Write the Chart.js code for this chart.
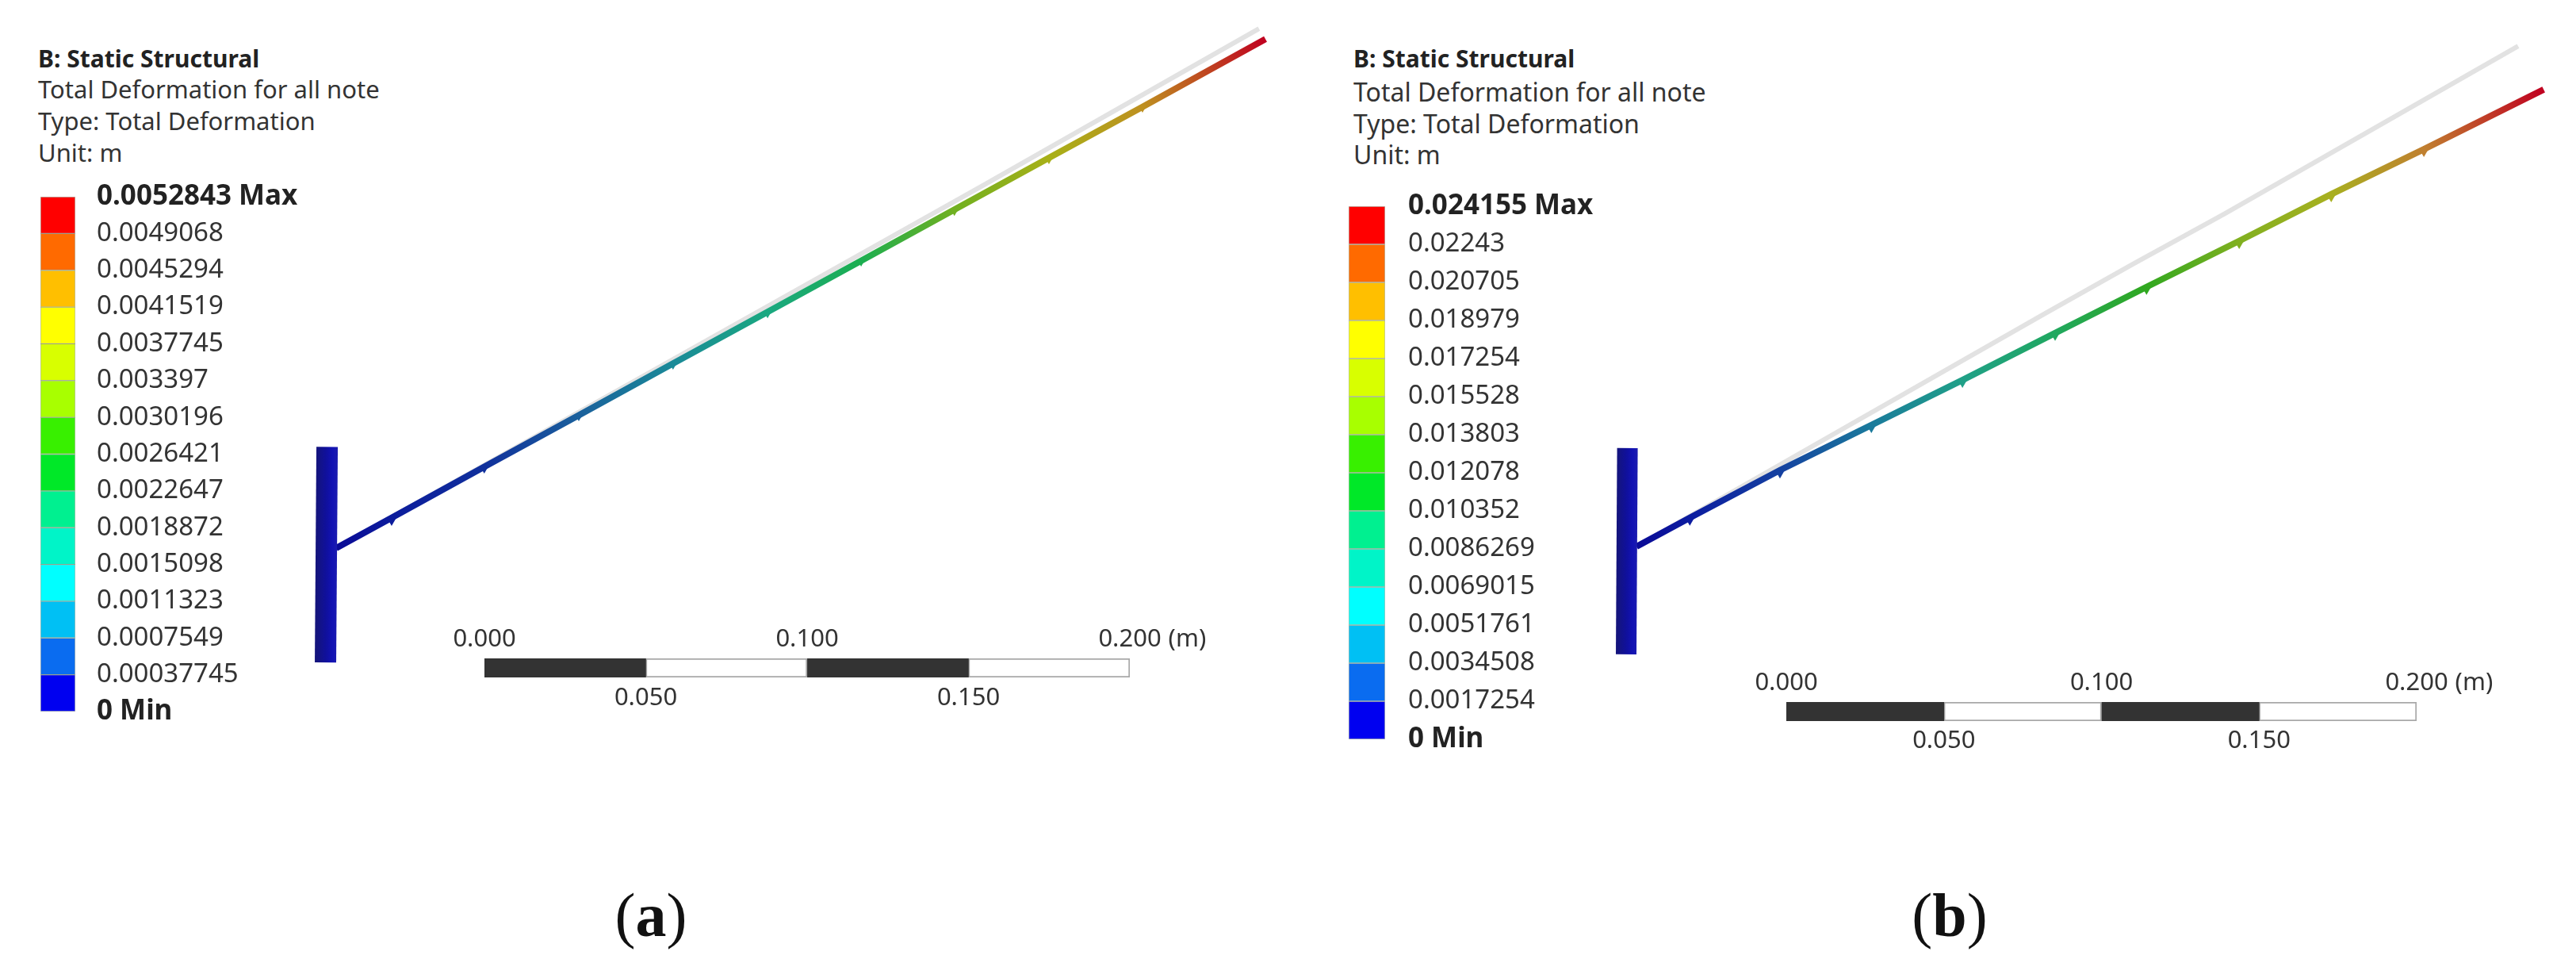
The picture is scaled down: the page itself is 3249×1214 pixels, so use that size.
<!DOCTYPE html>
<html>
<head>
<meta charset="utf-8">
<title>Total Deformation</title>
<script src="https://cdn.jsdelivr.net/npm/chart.js@4"></script>
<style>
    html, body { margin: 0; padding: 0; background: #fff; }
    #page { position: relative; width: 3249px; height: 1214px; overflow: hidden; }
    canvas { position: absolute; }
    .note { position: absolute; white-space: nowrap; color: #333; font-family: "Noto Sans", sans-serif; transform: translateY(-50%); }
    .note.head { font-weight: 700; color: #222; font-size: 30px; }
    .caption { position: absolute; white-space: nowrap; color: #111; font-family: "Liberation Serif", serif; transform: translate(-50%, -50%); }
    .caption b { font-weight: 700; }
</style>
</head>
<body>
<div id="page"></div>
<script>
// Text block above each legend
const noteHead = 'B: Static Structural';
const noteLines = ['Total Deformation for all note', 'Type: Total Deformation', 'Unit: m'];

// Legend labels, top (Max) to bottom (Min)
const legendLabelsA = ['0.0052843', '0.0049068', '0.0045294', '0.0041519', '0.0037745', '0.003397', '0.0030196',
    '0.0026421', '0.0022647', '0.0018872', '0.0015098', '0.0011323', '0.0007549', '0.00037745', '0'];
const legendLabelsB = ['0.024155', '0.02243', '0.020705', '0.018979', '0.017254', '0.015528', '0.013803',
    '0.012078', '0.010352', '0.0086269', '0.0069015', '0.0051761', '0.0034508', '0.0017254', '0'];
const bandColors = ['#ff0000', '#ff6a00', '#ffbf00', '#ffff00', '#d8ff00', '#a8ff00', '#38f000',
    '#00e828', '#00f090', '#00f4c8', '#00ffff', '#00c0f4', '#0a6cf0', '#0000f0'];

// Scale bar, metres
const scaleStops = [0, 0.05, 0.1, 0.15, 0.2];
const scaleColors = ['#333333', '#ffffff', '#333333', '#ffffff'];
const scaleTopTicks = [0, 0.1, 0.2];
const scaleBottomTicks = [0.05, 0.15];

// Panel (a) geometry, metres from the beam root
const postXA = [-0.0028, -0.0033];
const postYA = [0.0314, -0.0354];
const beamXA = [0, 0.0172, 0.0459, 0.0752, 0.1044, 0.1337, 0.1627, 0.1916, 0.2209, 0.2499, 0.2880];
const beamYA = [0, 0.0094, 0.0252, 0.0412, 0.0572, 0.0732, 0.0890, 0.1049, 0.1209, 0.1367, 0.1577];
const nodeYA = [0.0084, 0.0246, 0.0408, 0.0568, 0.0727, 0.0887, 0.1044, 0.1204, 0.1364];
const beamColorsA = ['#0a0a96', '#0c1c9c', '#10309c', '#1a609c', '#1a8a98', '#1aa880', '#1cae50', '#70b020', '#a8b018', '#be9020', '#c00020'];
const restXA = [0, 0.1000, 0.2000, 0.2860];
const restYA = [0, 0.0560, 0.1121, 0.1609];

// Panel (b) geometry
const postXB = [-0.0029, -0.0033];
const postYB = [0.0312, -0.0342];
const beamXB = [0, 0.0169, 0.0455, 0.0745, 0.1034, 0.1328, 0.1618, 0.1912, 0.2204, 0.2498, 0.2878];
const beamYB = [0, 0.0091, 0.0242, 0.0385, 0.0528, 0.0677, 0.0823, 0.0969, 0.1117, 0.1260, 0.1449];
const nodeYB = [0.0081, 0.0231, 0.0375, 0.0518, 0.0667, 0.0813, 0.0958, 0.1107, 0.1250];
const beamColorsB = ['#0a0a96', '#0c1ca0', '#1440a0', '#1a7a9c', '#20a088', '#20a860', '#30a820', '#80b020', '#a8b020', '#c08030', '#c00020'];
const restXB = [0, 0.1293, 0.1575, 0.1864, 0.2146, 0.2428, 0.2797];
const restYB = [0, 0.0737, 0.0896, 0.1054, 0.1215, 0.1376, 0.1587];

const uiFont = '"Noto Sans", sans-serif';
const page = document.getElementById('page');

function addCanvas(left, top, width, height) {
    const canvas = document.createElement('canvas');
    canvas.width = width;
    canvas.height = height;
    canvas.style.left = left + 'px';
    canvas.style.top = top + 'px';
    canvas.style.width = width + 'px';
    canvas.style.height = height + 'px';
    page.appendChild(canvas);
    return canvas;
}

function addNote(left, tops, fontSize) {
    [noteHead, ...noteLines].forEach((text, i) => {
        const el = document.createElement('div');
        el.className = i === 0 ? 'note head' : 'note';
        el.textContent = text;
        el.style.left = left + 'px';
        el.style.top = tops[i] + 'px';
        if (i > 0) el.style.fontSize = fontSize + 'px';
        page.appendChild(el);
    });
}

function addCaption(x, y, letter, fontSize) {
    const el = document.createElement('div');
    el.className = 'caption';
    el.innerHTML = '(<b>' + letter + '</b>)';
    el.style.left = x + 'px';
    el.style.top = y + 'px';
    el.style.fontSize = fontSize + 'px';
    page.appendChild(el);
}

// Colour legend: one floating bar per band on a linear axis
function drawLegend(labels, box, fontSize, boldSize) {
    const values = labels.map(Number);
    const pad = 30;
    const canvas = addCanvas(box.left, box.top - pad, box.barWidth + box.axisWidth, box.bottom - box.top + 2 * pad);
    const datasets = bandColors.map((color, i) => ({
        data: [[values[i + 1], values[i]]],
        backgroundColor: color,
        borderColor: 'rgba(40, 60, 20, 0.35)',
        borderWidth: 1,
        borderSkipped: false,
        grouped: false,
        barPercentage: 1,
        categoryPercentage: 1
    }));
    const isEnd = ctx => !!ctx.tick && (ctx.tick.value === values[0] || ctx.tick.value === 0);
    return new Chart(canvas, {
        type: 'bar',
        data: { labels: ['legend'], datasets },
        options: {
            responsive: false,
            animation: false,
            devicePixelRatio: 1,
            layout: { autoPadding: false, padding: { top: pad, bottom: pad, left: 0, right: 0 } },
            plugins: { legend: { display: false }, tooltip: { enabled: false } },
            scales: {
                x: { display: false },
                y: {
                    position: 'right',
                    min: 0,
                    max: values[0],
                    border: { display: false },
                    grid: { display: false, drawTicks: false },
                    afterFit: scale => {
                        scale.width = box.axisWidth;
                        scale.paddingTop = 0;
                        scale.paddingBottom = 0;
                    },
                    afterBuildTicks: scale => { scale.ticks = values.map(value => ({ value })); },
                    ticks: {
                        padding: box.labelGap,
                        color: ctx => isEnd(ctx) ? '#222' : '#333',
                        font: ctx => ({ family: uiFont, size: isEnd(ctx) ? boldSize : fontSize, weight: isEnd(ctx) ? '700' : '400' }),
                        callback: value => {
                            const text = labels[values.indexOf(value)];
                            if (value === 0) return text + ' Min';
                            return value === values[0] ? text + ' Max' : text;
                        }
                    }
                }
            }
        }
    });
}

// Scale bar: stacked floating bars, labels alternate above and below
function drawScaleBar(box, fontSize) {
    const sidePad = 60;
    const endPad = 170;
    const axisHeight = 70;
    const canvas = addCanvas(box.left - sidePad, box.top - axisHeight, box.right - box.left + sidePad + endPad, box.bottom - box.top + 2 * axisHeight);
    const labelFont = { family: uiFont, size: fontSize };
    const unitLabel = {
        id: 'unitLabel',
        afterDraw(chart) {
            const ctx = chart.ctx;
            const scale = chart.scales.x;
            ctx.save();
            ctx.font = fontSize + 'px ' + uiFont;
            ctx.fillStyle = '#333';
            ctx.textBaseline = 'middle';
            ctx.textAlign = 'left';
            const halfLabel = ctx.measureText('0.200').width / 2;
            ctx.fillText('(m)', scale.getPixelForValue(0.2) + halfLabel + 9, chart.chartArea.top - box.topGap - fontSize * 0.6);
            ctx.restore();
        }
    };
    const fitAxis = scale => {
        scale.height = axisHeight;
        scale.paddingLeft = 0;
        scale.paddingRight = 0;
    };
    return new Chart(canvas, {
        type: 'bar',
        data: {
            labels: ['scale'],
            datasets: scaleColors.map((color, i) => ({
                data: [[scaleStops[i], scaleStops[i + 1]]],
                backgroundColor: color,
                borderColor: '#a8a8a8',
                borderWidth: color === '#ffffff' ? 2 : 0,
                borderSkipped: false,
                grouped: false,
                barPercentage: 1,
                categoryPercentage: 1
            }))
        },
        plugins: [unitLabel],
        options: {
            indexAxis: 'y',
            responsive: false,
            animation: false,
            devicePixelRatio: 1,
            layout: { autoPadding: false, padding: { left: sidePad, right: endPad, top: 0, bottom: 0 } },
            plugins: { legend: { display: false }, tooltip: { enabled: false } },
            scales: {
                y: { display: false },
                x: {
                    position: 'top',
                    min: 0,
                    max: 0.2,
                    border: { display: false },
                    grid: { display: false, drawTicks: false },
                    afterFit: fitAxis,
                    afterBuildTicks: scale => { scale.ticks = scaleTopTicks.map(value => ({ value })); },
                    ticks: { padding: box.topGap, color: '#333', font: labelFont, maxRotation: 0, callback: v => v.toFixed(3) }
                },
                x2: {
                    position: 'bottom',
                    min: 0,
                    max: 0.2,
                    border: { display: false },
                    grid: { display: false, drawTicks: false },
                    afterFit: fitAxis,
                    afterBuildTicks: scale => { scale.ticks = scaleBottomTicks.map(value => ({ value })); },
                    ticks: { padding: box.bottomGap, color: '#333', font: labelFont, maxRotation: 0, callback: v => v.toFixed(3) }
                }
            }
        }
    });
}

const xy = (xs, ys) => xs.map((x, i) => ({ x, y: ys[i] }));

// Colour along the beam follows the node colours
function beamGradient(context, xs, ys, colors) {
    const { chart } = context;
    if (!chart.chartArea) return colors[0];
    const { x, y } = chart.scales;
    const last = xs.length - 1;
    const gradient = chart.ctx.createLinearGradient(x.getPixelForValue(0), y.getPixelForValue(0), x.getPixelForValue(xs[last]), y.getPixelForValue(ys[last]));
    xs.forEach((value, i) => gradient.addColorStop(value / xs[last], colors[i]));
    return gradient;
}

function postGradient(context, xs, halfWidth) {
    const { chart } = context;
    if (!chart.chartArea) return '#10108a';
    const px = chart.scales.x.getPixelForValue(xs[0]);
    const gradient = chart.ctx.createLinearGradient(px - halfWidth, 0, px + halfWidth, 0);
    gradient.addColorStop(0, '#14147c');
    gradient.addColorStop(0.45, '#10109c');
    gradient.addColorStop(0.75, '#1212b4');
    gradient.addColorStop(1, '#1c1cae');
    return gradient;
}

// Deformed and undeformed beam in metres
function drawBeam(geo, box) {
    const canvas = addCanvas(box.left, box.top, box.width, box.height);
    return new Chart(canvas, {
        type: 'scatter',
        data: {
            datasets: [
                {
                    data: xy(geo.postX, geo.postY),
                    showLine: true,
                    pointRadius: 0,
                    borderWidth: box.postWidth,
                    borderColor: ctx => postGradient(ctx, geo.postX, box.postWidth / 2),
                    order: 1
                },
                {
                    data: xy(geo.beamX.slice(1, -1), geo.nodeY),
                    pointStyle: 'triangle',
                    rotation: 180,
                    pointRadius: 6,
                    borderWidth: 0,
                    backgroundColor: geo.beamColors.slice(1, -1),
                    order: 2
                },
                {
                    data: xy(geo.beamX, geo.beamY),
                    showLine: true,
                    pointRadius: 0,
                    borderWidth: 8,
                    borderColor: ctx => beamGradient(ctx, geo.beamX, geo.beamY, geo.beamColors),
                    order: 3
                },
                {
                    data: xy(geo.restX, geo.restY),
                    showLine: true,
                    pointRadius: 0,
                    borderWidth: 6,
                    borderColor: '#e2e2e2',
                    order: 4
                }
            ]
        },
        options: {
            responsive: false,
            animation: false,
            devicePixelRatio: 1,
            layout: { autoPadding: false, padding: 0 },
            plugins: { legend: { display: false }, tooltip: { enabled: false } },
            scales: {
                x: { display: false, min: box.xRange[0], max: box.xRange[1] },
                y: { display: false, min: box.yRange[0], max: box.yRange[1] }
            }
        }
    });
}

// Panel (a)
addNote(48, [73, 112, 152, 192], 31);
drawLegend(legendLabelsA, { left: 51, top: 248, bottom: 897, barWidth: 44, axisWidth: 380, labelGap: 27 }, 33, 35);
drawBeam(
    { postX: postXA, postY: postYA, beamX: beamXA, beamY: beamYA, nodeY: nodeYA, beamColors: beamColorsA, restX: restXA, restY: restYA },
    { left: 380, top: 0, width: 1260, height: 860, postWidth: 27, xRange: [-0.0108, 0.2988], yRange: [-0.0415, 0.1698] }
);
drawScaleBar({ left: 611, right: 1425, top: 830, bottom: 854, topGap: 5, bottomGap: 8 }, 31);
addCaption(821, 1154, 'a', 78);

// Panel (b)
addNote(1707, [73, 115, 155, 194], 32);
drawLegend(legendLabelsB, { left: 1701, top: 260, bottom: 932, barWidth: 46, axisWidth: 380, labelGap: 29 }, 33, 35);
drawBeam(
    { postX: postXB, postY: postYB, beamX: beamXB, beamY: beamYB, nodeY: nodeYB, beamColors: beamColorsB, restX: restXB, restY: restYB },
    { left: 2020, top: 0, width: 1220, height: 850, postWidth: 26, xRange: [-0.0111, 0.2958], yRange: [-0.0405, 0.1733] }
);
drawScaleBar({ left: 2253, right: 3048, top: 885, bottom: 909, topGap: 5, bottomGap: 7 }, 31);
addCaption(2459, 1154, 'b', 78);
</script>
</body>
</html>
